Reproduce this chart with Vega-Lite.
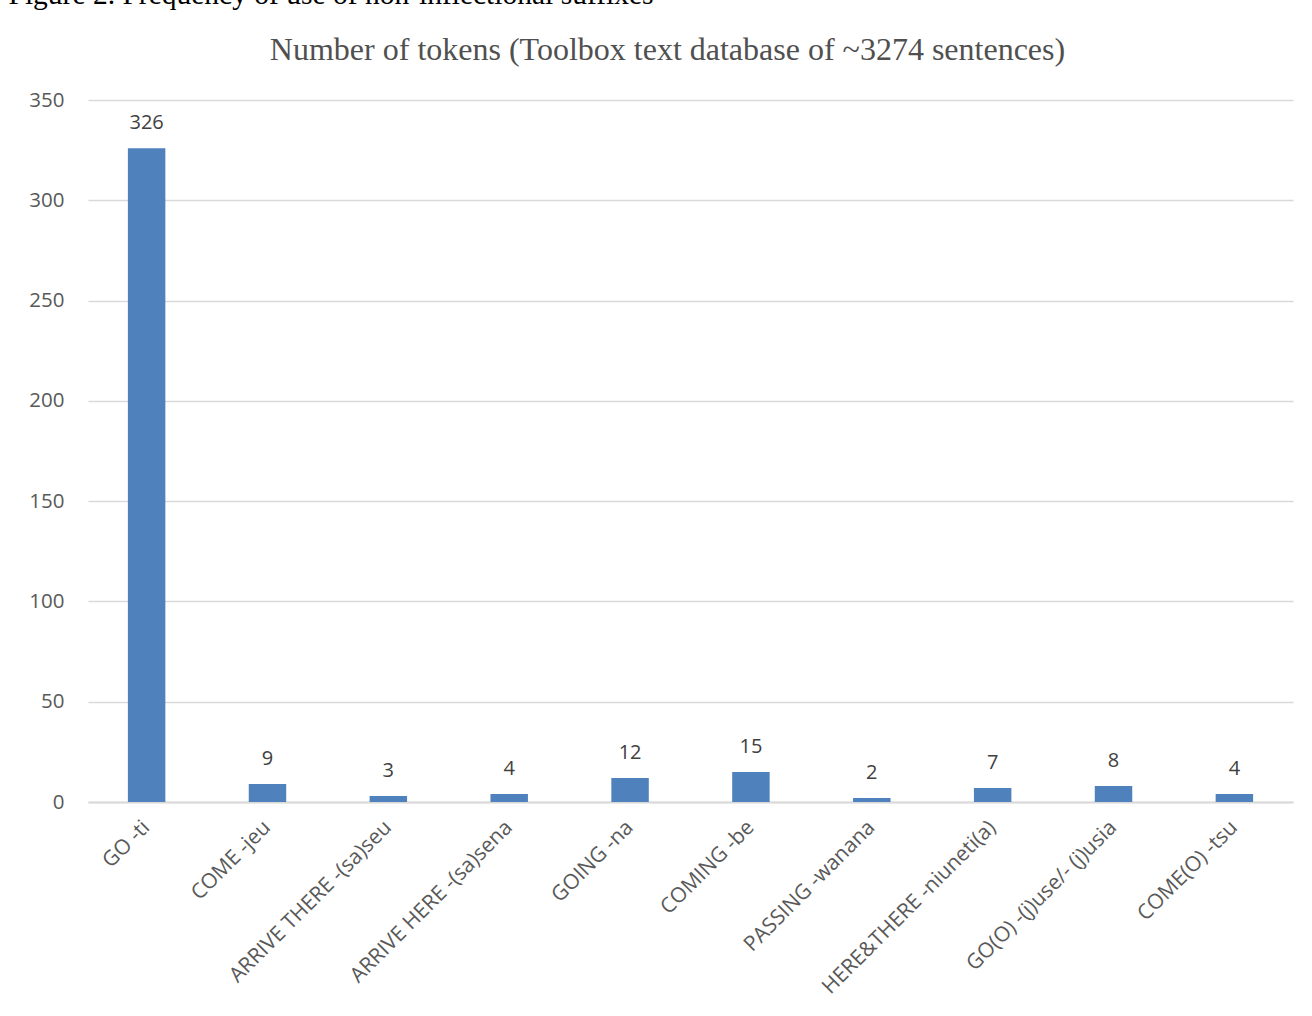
{
  "$schema": "https://vega.github.io/schema/vega-lite/v6.json",
  "autosize": "none",
  "width": 1205,
  "height": 702,
  "padding": {"left": 88, "top": 100, "right": 19, "bottom": 214},
  "background": "white",
  "config": {
    "view": {"stroke": null},
    "font": "Open Sans"
  },
  "data": {
    "values": [
      {"suffix": "GO -ti", "tokens": 326},
      {"suffix": "COME -jeu", "tokens": 9},
      {"suffix": "ARRIVE THERE -(sa)seu", "tokens": 3},
      {"suffix": "ARRIVE HERE -(sa)sena", "tokens": 4},
      {"suffix": "GOING -na", "tokens": 12},
      {"suffix": "COMING -be", "tokens": 15},
      {"suffix": "PASSING -wanana", "tokens": 2},
      {"suffix": "HERE&THERE -niuneti(a)", "tokens": 7},
      {"suffix": "GO(O)  -(j)use/- (j)usia", "tokens": 8},
      {"suffix": "COME(O) -tsu", "tokens": 4}
    ]
  },
  "encoding": {
    "x": {
      "field": "suffix",
      "type": "nominal",
      "sort": null,
      "scale": {"paddingInner": 0.69, "paddingOuter": 0.33},
      "axis": {
        "title": "Number of tokens (Toolbox text database of ~3274 sentences)",
        "titleFont": "Liberation Serif",
        "titleFontSize": 32,
        "titleFontWeight": "normal",
        "titleColor": "#505050",
        "titleX": 579,
        "titleY": -753,
        "titleAlign": "center",
        "titleBaseline": "middle",
        "labelAngle": -45,
        "labelAlign": "right",
        "labelBaseline": "middle",
        "labelFontSize": 21,
        "labelColor": "#595959",
        "labelFont": "Open Sans",
        "labelPadding": 22,
        "labelLimit": 400,
        "ticks": false,
        "domainColor": "#d9d9d9",
        "domainWidth": 2
      }
    },
    "y": {
      "field": "tokens",
      "type": "quantitative",
      "scale": {"domain": [0, 350], "nice": false},
      "axis": {
        "values": [0, 50, 100, 150, 200, 250, 300, 350],
        "title": "Figure 2. Frequency of use of non-inflectional suffixes",
        "titleAngle": 0,
        "titleX": -80,
        "titleY": -97,
        "titleAlign": "left",
        "titleBaseline": "alphabetic",
        "titleFont": "Liberation Serif",
        "titleFontSize": 29.5,
        "titleFontWeight": "normal",
        "titleColor": "#000000",
        "labelFontSize": 20.5,
        "labelColor": "#595959",
        "labelFont": "Open Sans",
        "labelPadding": 24,
        "ticks": false,
        "domain": false,
        "gridColor": "#d9d9d9",
        "gridWidth": 1.5
      }
    }
  },
  "layer": [
    {"mark": {"type": "bar", "color": "#4f81bd"}},
    {
      "mark": {"type": "text", "baseline": "middle", "dy": -25, "fontSize": 20, "color": "#404040", "font": "Open Sans"},
      "encoding": {"text": {"field": "tokens", "type": "quantitative"}}
    }
  ]
}
